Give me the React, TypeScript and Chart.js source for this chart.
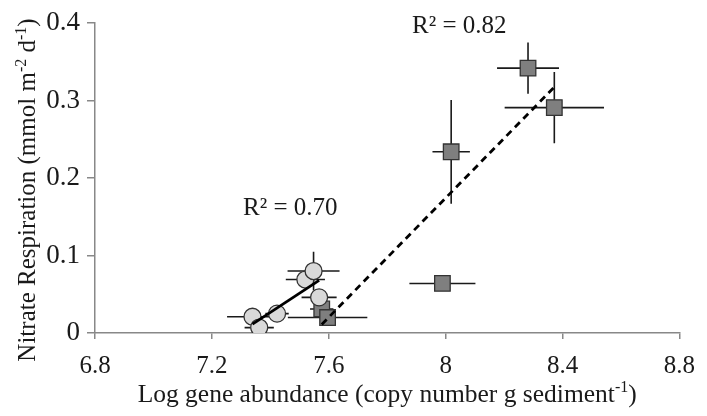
import React, { useEffect, useRef } from "react";
import { Chart, registerables } from "chart.js";

Chart.register(...registerables);

// ---- data ----
const circleX = [7.339, 7.362, 7.423, 7.52, 7.548, 7.567];
const circleY = [0.021, 0.007, 0.025, 0.069, 0.08, 0.046];
const circleXErr = [0.087, 0.05, 0.04, 0.067, 0.089, 0.06];
const circleYErr = [0.004, 0.003, 0.004, 0.006, 0.025, 0.006];

const squareX = [7.576, 7.596, 7.989, 8.019, 8.282, 8.372];
const squareY = [0.031, 0.02, 0.064, 0.234, 0.342, 0.291];
const squareXErr = [0.04, 0.136, 0.113, 0.064, 0.106, 0.17];
const squareYErr = [0.004, 0.004, 0.004, 0.067, 0.033, 0.046];

const xTicks = [6.8, 7.2, 7.6, 8, 8.4, 8.8];
const yTicks = [0, 0.1, 0.2, 0.3, 0.4];

const r2Circles = "R² = 0.70";
const r2Squares = "R² = 0.82";
const xTitle: [string, boolean][] = [
  ["Log gene abundance (copy number g sediment", false],
  ["-1", true],
  [")", false],
];
const yTitle: [string, boolean][] = [
  ["Nitrate Respiration (mmol m", false],
  ["-2", true],
  [" d", false],
  ["-1", true],
  [")", false],
];

function fitLine(xs: number[], ys: number[]) {
  const n = xs.length;
  const mx = xs.reduce((a, b) => a + b, 0) / n;
  const my = ys.reduce((a, b) => a + b, 0) / n;
  let sxy = 0;
  let sxx = 0;
  for (let i = 0; i < n; i++) {
    sxy += (xs[i] - mx) * (ys[i] - my);
    sxx += (xs[i] - mx) * (xs[i] - mx);
  }
  const slope = sxy / sxx;
  const x0 = Math.min(...xs);
  const x1 = Math.max(...xs);
  return [
    { x: x0, y: my + slope * (x0 - mx) },
    { x: x1, y: my + slope * (x1 - mx) },
  ];
}

const FONT = "'Liberation Serif', 'Times New Roman', serif";

function drawRich(ctx: CanvasRenderingContext2D, parts: [string, boolean][], size: number) {
  const supSize = Math.round(size * 0.62);
  let total = 0;
  for (const [t, sup] of parts) {
    ctx.font = `${sup ? supSize : size}px ${FONT}`;
    total += ctx.measureText(t).width;
  }
  let x = -total / 2;
  for (const [t, sup] of parts) {
    ctx.font = `${sup ? supSize : size}px ${FONT}`;
    ctx.fillText(t, x, sup ? -size * 0.38 : 0);
    x += ctx.measureText(t).width;
  }
}

const errorBarPlugin = {
  id: "errorBars",
  beforeDatasetsDraw(chart: any) {
    const { ctx } = chart;
    const xs = chart.scales.x;
    const ys = chart.scales.y;
    ctx.save();
    ctx.strokeStyle = "#1a1a1a";
    ctx.lineWidth = 1.6;
    const groups = [
      [circleX, circleY, circleXErr, circleYErr],
      [squareX, squareY, squareXErr, squareYErr],
    ];
    for (const [gx, gy, ex, ey] of groups) {
      for (let i = 0; i < gx.length; i++) {
        const px = xs.getPixelForValue(gx[i]);
        const py = ys.getPixelForValue(gy[i]);
        ctx.beginPath();
        ctx.moveTo(xs.getPixelForValue(gx[i] - ex[i]), py);
        ctx.lineTo(xs.getPixelForValue(gx[i] + ex[i]), py);
        ctx.moveTo(px, ys.getPixelForValue(gy[i] - ey[i]));
        ctx.lineTo(px, ys.getPixelForValue(gy[i] + ey[i]));
        ctx.stroke();
      }
    }
    ctx.restore();
  },
};

const textPlugin = {
  id: "texts",
  afterDraw(chart: any) {
    const { ctx, chartArea } = chart;
    ctx.save();
    ctx.fillStyle = "#1a1a1a";
    ctx.textBaseline = "alphabetic";
    ctx.textAlign = "left";
    // x title
    ctx.save();
    ctx.translate((chartArea.left + chartArea.right) / 2, 402);
    drawRich(ctx, xTitle, 25.5);
    ctx.restore();
    // y title
    ctx.save();
    ctx.translate(35, 190);
    ctx.rotate(-Math.PI / 2);
    drawRich(ctx, yTitle, 25);
    ctx.restore();
    // R² labels
    ctx.font = `25px ${FONT}`;
    ctx.fillText(r2Circles, 243, 215);
    ctx.fillText(r2Squares, 412, 33);
    ctx.restore();
  },
};

export default function App() {
  const ref = useRef<HTMLCanvasElement | null>(null);
  useEffect(() => {
    if (!ref.current) return;
    const chart = new Chart(ref.current, {
      type: "scatter",
      data: {
        datasets: [
          {
            type: "line",
            data: fitLine(circleX, circleY),
            borderColor: "#000",
            borderWidth: 2.8,
            pointRadius: 0,
            order: 0,
          } as any,
          {
            type: "line",
            data: fitLine(squareX, squareY),
            borderColor: "#000",
            borderWidth: 2.8,
            borderDash: [7, 5],
            pointRadius: 0,
            order: 0,
          } as any,
          {
            data: circleX.map((x, i) => ({ x, y: circleY[i] })),
            pointStyle: "circle",
            pointRadius: 8.5,
            pointBackgroundColor: "#d9d9d9",
            pointBorderColor: "#333",
            pointBorderWidth: 1.3,
            order: 1,
          },
          {
            data: squareX.map((x, i) => ({ x, y: squareY[i] })),
            pointStyle: "rect",
            pointRadius: 11,
            pointBackgroundColor: "#7f7f7f",
            pointBorderColor: "#333",
            pointBorderWidth: 1.3,
            order: 1,
          },
        ],
      },
      options: {
        animation: false,
        responsive: false,
        layout: { padding: { top: 18, right: 15, left: 0, bottom: 0 } },
        plugins: {
          legend: { display: false },
          tooltip: { enabled: false },
        },
        scales: {
          x: {
            type: "linear",
            min: 6.8,
            max: 8.8,
            afterBuildTicks: (s: any) => {
              s.ticks = xTicks.map((v) => ({ value: v }));
            },
            afterFit: (s: any) => {
              s.height = 83;
            },
            ticks: {
              callback: (v: any) => String(Number(Number(v).toFixed(1))),
              font: { family: FONT, size: 25 },
              color: "#1a1a1a",
              padding: 12,
              maxRotation: 0,
            },
            grid: {
              drawOnChartArea: false,
              drawTicks: true,
              tickLength: 6,
              color: "#888",
              lineWidth: 1.5,
            },
            border: { color: "#888", width: 1.5 },
          },
          y: {
            type: "linear",
            min: 0,
            max: 0.4,
            afterBuildTicks: (s: any) => {
              s.ticks = yTicks.map((v) => ({ value: v }));
            },
            afterFit: (s: any) => {
              s.width = 95;
            },
            ticks: {
              callback: (v: any) => String(Number(Number(v).toFixed(1))),
              font: { family: FONT, size: 27 },
              color: "#1a1a1a",
              padding: 7,
            },
            grid: {
              drawOnChartArea: false,
              drawTicks: true,
              tickLength: 8,
              color: "#888",
              lineWidth: 1.5,
            },
            border: { color: "#888", width: 1.5 },
          },
        },
      },
      plugins: [errorBarPlugin, textPlugin],
    });
    return () => chart.destroy();
  }, []);
  return (
    <div style={{ position: "absolute", left: 0, top: 0, width: 707, height: 416, background: "#fff" }}>
      <canvas ref={ref} width={707} height={416} style={{ display: "block" }} />
    </div>
  );
}
